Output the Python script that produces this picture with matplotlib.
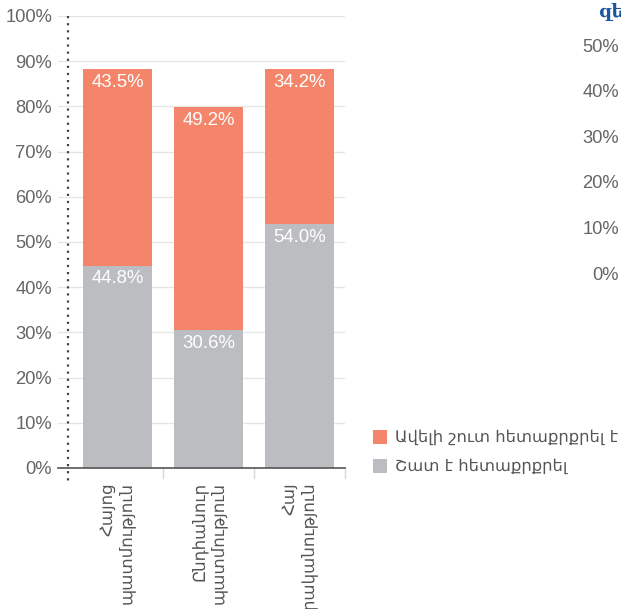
import matplotlib
matplotlib.use("Agg")
import matplotlib.pyplot as plt
from matplotlib.patches import Rectangle
from matplotlib.lines import Line2D

plt.rcParams['font.family'] = ['Liberation Sans', 'DejaVu Sans']

categories = ["Հայոց\nպատմություն", "Ընդհանուր\nպատմություն", "Հայ\nգրականություն"]
very_interested = [44.8, 30.6, 54.0]        # Շատ է հետաքրքրել
rather_interested = [43.5, 49.2, 34.2]      # Ավելի շուտ հետաքրքրել է
series_names = ["Ավելի շուտ հետաքրքրել է", "Շատ է հետաքրքրել"]
y_ticks = [0, 10, 20, 30, 40, 50, 60, 70, 80, 90, 100]
side_ticks = [0, 10, 20, 30, 40, 50]
side_title = "զեկույց"

ORANGE = "#F4856A"
GREY = "#BCBDC1"
TICK_COLOR = "#666666"

W, H = 621, 609
fig = plt.figure(figsize=(W / 100, H / 100), dpi=100)


def px_rect(left, top, right, bottom):
    return [left / W, 1 - bottom / H, (right - left) / W, (bottom - top) / H]


ax = fig.add_axes(px_rect(58, 16, 345, 468))
x = list(range(len(categories)))
bar_w = 0.758

ax.bar(x, very_interested, width=bar_w, color=GREY, zorder=3)
ax.bar(x, rather_interested, width=bar_w, bottom=very_interested, color=ORANGE, zorder=3)

for i in x:
    ax.annotate(f"{very_interested[i]:.1f}%", (i, very_interested[i]), xytext=(0, -9.6),
                textcoords="offset points", ha="center", va="center",
                color="white", fontsize=13.4, zorder=4)
    top = very_interested[i] + rather_interested[i]
    ax.annotate(f"{rather_interested[i]:.1f}%", (i, top), xytext=(0, -9.6),
                textcoords="offset points", ha="center", va="center",
                color="white", fontsize=13.4, zorder=4)

ax.set_xlim(-0.654, 2.5)
ax.set_ylim(0, 100)
ax.set_yticks(y_ticks)
ax.set_yticklabels([f"{t}%" for t in y_ticks])
ax.tick_params(axis="y", length=0, pad=4.3, labelsize=13.2, labelcolor=TICK_COLOR)
ax.yaxis.grid(True, color="#e6e6e6", linewidth=1, zorder=0)

ax.set_xticks(x)
ax.set_xticklabels(categories, rotation=90, ha="center", va="top",
                   multialignment="right", fontsize=12, color="#555555",
                   linespacing=1.2)
ax.tick_params(axis="x", length=0, pad=10)
for b in [0.5, 1.5, 2.5]:
    ax.plot([b, b], [0, -0.022], transform=ax.get_xaxis_transform(),
            color="#d8d8d8", lw=1, clip_on=False, zorder=2)

for s in ["top", "right", "left"]:
    ax.spines[s].set_visible(False)
ax.spines["bottom"].set_color("#555555")
ax.spines["bottom"].set_linewidth(1.2)
ax.spines["bottom"].set_zorder(5)

# dotted marker line near the y axis
ax.add_line(Line2D([-0.544, -0.544], [1.0, -0.03], transform=ax.get_xaxis_transform(),
                   color="#444444", lw=1.6, linestyle=(0, (1, 2.2)), clip_on=False, zorder=6))

# legend
legend_items = [(series_names[0], ORANGE, 437), (series_names[1], GREY, 466)]
for name, col, yc in legend_items:
    fig.add_artist(Rectangle(((373) / W, 1 - (yc + 7) / H), 14 / W, 14 / H,
                             transform=fig.transFigure, facecolor=col, edgecolor="none"))
    fig.text(395 / W, 1 - yc / H, name, ha="left", va="center", fontsize=11.8,
             color="#555555", family=["DejaVu Sans"])

# neighbouring panel axis
ax2 = fig.add_axes(px_rect(625, 45, 700, 273))
ax2.set_ylim(0, 50)
ax2.set_yticks(side_ticks)
ax2.set_yticklabels([f"{t}%" for t in side_ticks])
ax2.tick_params(axis="y", length=0, pad=4.3, labelsize=13.2, labelcolor=TICK_COLOR)
ax2.set_xticks([])
for s in ax2.spines.values():
    s.set_visible(False)
ax2.patch.set_visible(False)

fig.text(599 / W, 1 - 12 / H, side_title, ha="left", va="center", fontsize=13,
         fontweight="bold", color="#1a56a0", family=["DejaVu Serif"])

fig.savefig("out.png", dpi=100)
